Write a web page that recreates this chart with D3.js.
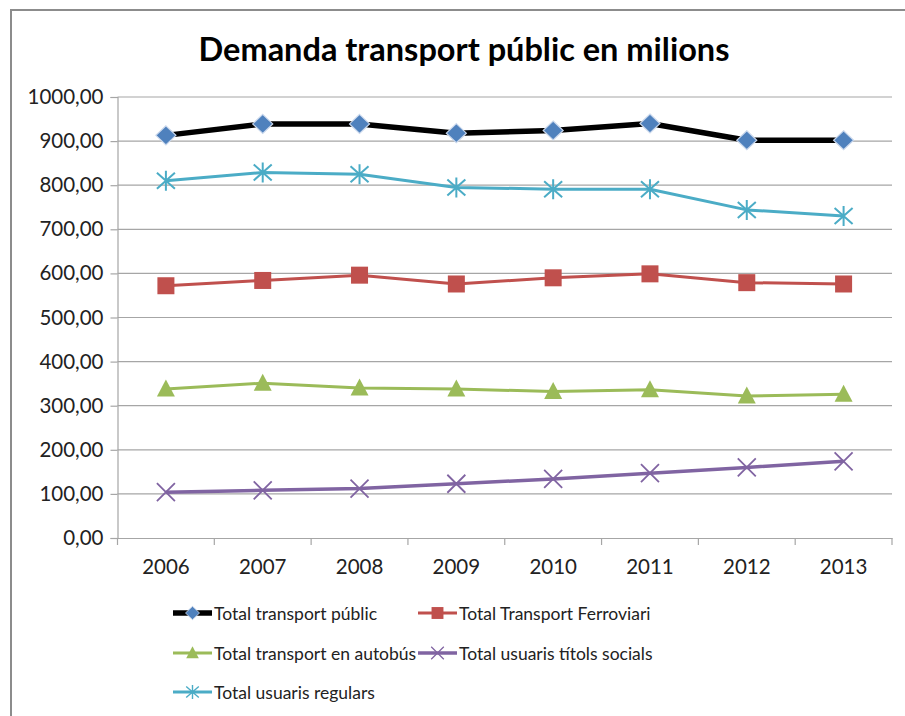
<!DOCTYPE html>
<html>
<head>
<meta charset="utf-8"/>
<title>Demanda transport públic</title>
<style>
	body { margin: 0; background: #fff; }
	svg text { font-family: Lato, "Open Sans", sans-serif; fill: #222; }
</style>
</head>
<body>
<svg id="viz" width="905" height="716"></svg>
<script src="https://d3js.org/d3.v7.min.js"></script>
<script>
	// Dades
	var anys = ["2006", "2007", "2008", "2009", "2010", "2011", "2012", "2013"];
	var yTicks = [0, 100, 200, 300, 400, 500, 600, 700, 800, 900, 1000];

	var totalPublic     = [913, 939, 939, 918, 924, 940, 902, 902];
	var totalFerroviari = [572, 584, 596, 576, 590, 599, 579, 576];
	var totalAutobus    = [338, 351, 340, 338, 332, 336, 322, 326];
	var titolsSocials   = [104, 108, 112, 123, 134, 147, 160, 174];
	var usuarisRegulars = [810, 829, 825, 795, 791, 791, 744, 730];

	var series = [
		{ nom: "Total transport públic", valors: totalPublic, color: "#000000", width: 5.5, marker: "diamond", mcolor: "#4F81BD" },
		{ nom: "Total Transport Ferroviari", valors: totalFerroviari, color: "#C0504D", width: 3, marker: "square", mcolor: "#C0504D" },
		{ nom: "Total transport en autobús", valors: totalAutobus, color: "#9BBB59", width: 3, marker: "triangle", mcolor: "#9BBB59" },
		{ nom: "Total usuaris títols socials", valors: titolsSocials, color: "#8064A2", width: 3.5, marker: "cross", mcolor: "#8064A2" },
		{ nom: "Total usuaris regulars", valors: usuarisRegulars, color: "#4BACC6", width: 3, marker: "star", mcolor: "#4BACC6" }
	];

	// Ordre de dibuix (la línia negra per sobre)
	var ordreDibuix = [4, 3, 2, 1, 0];

	const margin = { left: 117.5, top: 97, right: 13, bottom: 178 },
		width = 905, height = 716,
		iwidth = width - margin.left - margin.right,
		iheight = height - margin.top - margin.bottom;

	const svg = d3.select("#viz");

	// Marc exterior
	svg.append("rect")
		.attr("x", 11).attr("y", 10)
		.attr("width", 920).attr("height", 730)
		.attr("fill", "none")
		.attr("stroke", "#8c8c8c")
		.attr("stroke-width", 2);

	// Títol
	svg.append("text")
		.attr("x", 464).attr("y", 61)
		.attr("text-anchor", "middle")
		.style("font-size", "32.5px")
		.style("font-weight", "bold")
		.style("fill", "#000")
		.text("Demanda transport públic en milions");

	const g = svg.append("g").attr("transform", `translate(${margin.left},${margin.top})`);

	const x = d3.scaleBand().domain(anys).range([0, iwidth]);
	const y = d3.scaleLinear().domain([0, 1000]).range([iheight, 0]);

	const fmt = d => d3.format(".2f")(d).replace(".", ",");

	// Línies de la graella
	g.append("g")
		.selectAll("line")
		.data(yTicks.filter(d => d > 0))
		.join("line")
		.attr("x1", 0).attr("x2", iwidth)
		.attr("y1", d => y(d)).attr("y2", d => y(d))
		.attr("stroke", "#a6a6a6").attr("stroke-width", 1.2);

	// Eix Y
	const yAxis = g.append("g")
		.call(d3.axisLeft(y).tickValues(yTicks).tickFormat(fmt).tickSize(7).tickPadding(7));
	yAxis.select(".domain").attr("stroke", "#a6a6a6").attr("stroke-width", 1.2);
	yAxis.selectAll(".tick line").attr("stroke", "#a6a6a6").attr("stroke-width", 1.2);
	yAxis.selectAll("text").style("font-size", "20.5px").style("font-family", "Lato, sans-serif").attr("fill", "#222");

	// Eix X
	const xAxis = g.append("g")
		.attr("transform", `translate(0,${iheight})`)
		.call(d3.axisBottom(x).tickSize(0).tickPadding(21));
	xAxis.select(".domain").attr("stroke", "#a6a6a6").attr("stroke-width", 1.2);
	xAxis.selectAll("text").style("font-size", "20.5px").style("font-family", "Lato, sans-serif").attr("fill", "#222");
	// marques entre categories
	g.append("g")
		.selectAll("line")
		.data(anys.concat(["fi"]))
		.join("line")
		.attr("x1", (d, i) => i * x.step()).attr("x2", (d, i) => i * x.step())
		.attr("y1", iheight).attr("y2", iheight + 7)
		.attr("stroke", "#a6a6a6").attr("stroke-width", 1.2);

	// Marcadors
	function dibuixaMarcador(sel, tipus, color) {
		if (tipus === "diamond") {
			sel.append("path").attr("d", "M0,-9.5L10,0L0,9.5L-10,0Z")
				.attr("fill", color).attr("stroke", "#c9d7ec").attr("stroke-width", 1.2);
		} else if (tipus === "square") {
			sel.append("rect").attr("x", -8.5).attr("y", -8.5).attr("width", 17).attr("height", 17)
				.attr("fill", color);
		} else if (tipus === "triangle") {
			sel.append("path").attr("d", "M0,-9.5L9,7.5L-9,7.5Z").attr("fill", color);
		} else if (tipus === "cross") {
			sel.append("path").attr("d", "M-9,-9L9,9M-9,9L9,-9")
				.attr("stroke", color).attr("stroke-width", 1.8).attr("fill", "none");
		} else if (tipus === "star") {
			sel.append("path").attr("d", "M-9,-8L9,8M-9,8L9,-8M0,-10L0,10")
				.attr("stroke", color).attr("stroke-width", 2).attr("fill", "none");
		}
	}

	const cx = (d, i) => x(anys[i]) + x.bandwidth() / 2;
	const linia = d3.line().x((d, i) => cx(d, i)).y(d => y(d));

	ordreDibuix.forEach(function (k) {
		var s = series[k];
		g.append("path")
			.datum(s.valors)
			.attr("d", linia)
			.attr("fill", "none")
			.attr("stroke", s.color)
			.attr("stroke-width", s.width)
			.attr("stroke-linejoin", "round");
		g.append("g")
			.selectAll("g")
			.data(s.valors)
			.join("g")
			.attr("transform", (d, i) => `translate(${cx(d, i)},${y(d)})`)
			.each(function () { dibuixaMarcador(d3.select(this), s.marker, s.mcolor); });
	});

	// Llegenda
	var llegendaPos = [
		{ x: 173, y: 613 }, { x: 418, y: 613 },
		{ x: 173, y: 653 }, { x: 418, y: 653 },
		{ x: 173, y: 692 }
	];
	var lg = svg.append("g");
	series.forEach(function (s, i) {
		var p = llegendaPos[i];
		var it = lg.append("g").attr("transform", `translate(${p.x},${p.y})`);
		it.append("line").attr("x1", 0).attr("x2", 39).attr("y1", 0).attr("y2", 0)
			.attr("stroke", s.color).attr("stroke-width", s.width);
		var m = it.append("g").attr("transform", "translate(19.5,0) scale(0.7)");
		dibuixaMarcador(m, s.marker, s.mcolor);
		it.append("text").attr("x", 41).attr("y", 6.5)
			.style("font-size", "17.5px")
			.text(s.nom);
	});
</script>
</body>
</html>
